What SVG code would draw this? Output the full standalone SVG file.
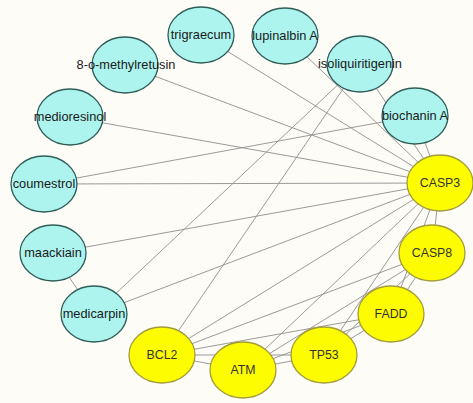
<svg xmlns="http://www.w3.org/2000/svg" width="473" height="403" viewBox="0 0 473 403">
<style>
.bg{fill:#fdfcf7}
.e line{stroke:#8e8e8e;stroke-width:0.9}
.c ellipse{fill:#aef4ee;stroke:#2f5e5a;stroke-width:1.3}
.t ellipse{fill:#fdfc00;stroke:#a39c3a;stroke-width:1.3}
text{font-family:"Liberation Sans",Arial,sans-serif;font-size:12px;text-anchor:middle}
.c text{fill:#1a1a1a;font-size:12.8px}
.t text{fill:#333333;font-size:12.3px}
</style>
<rect class="bg" x="0" y="0" width="473" height="403"/>
<g id="connectors" class="e">
<line x1="201" y1="35" x2="440" y2="183"/>
<line x1="125" y1="65" x2="440" y2="183"/>
<line x1="70" y1="117" x2="440" y2="183"/>
<line x1="44" y1="184" x2="440" y2="183"/>
<line x1="44" y1="184" x2="415" y2="116"/>
<line x1="285" y1="36" x2="440" y2="183"/>
<line x1="360" y1="64" x2="440" y2="183"/>
<line x1="360" y1="64" x2="94" y2="314"/>
<line x1="360" y1="64" x2="162" y2="355"/>
<line x1="415" y1="116" x2="440" y2="183"/>
<line x1="53" y1="253" x2="94" y2="314"/>
<line x1="53" y1="253" x2="440" y2="183"/>
<line x1="94" y1="314" x2="440" y2="183"/>
<line x1="440" y1="183" x2="432" y2="253"/>
<line x1="440" y1="183" x2="391" y2="314"/>
<line x1="440" y1="183" x2="324" y2="355"/>
<line x1="440" y1="183" x2="243" y2="370"/>
<line x1="440" y1="183" x2="162" y2="355"/>
<line x1="432" y1="253" x2="391" y2="314"/>
<line x1="432" y1="253" x2="324" y2="355"/>
<line x1="432" y1="253" x2="243" y2="370"/>
<line x1="432" y1="253" x2="162" y2="355"/>
<line x1="391" y1="314" x2="324" y2="355"/>
<line x1="391" y1="314" x2="243" y2="370"/>
<line x1="391" y1="314" x2="162" y2="355"/>
<line x1="324" y1="355" x2="243" y2="370"/>
<line x1="324" y1="355" x2="162" y2="355"/>
<line x1="243" y1="370" x2="162" y2="355"/>
</g>
<g id="trigraecum" class="c"><ellipse cx="201" cy="35" rx="33" ry="28"/><text x="201" y="39">trigraecum</text></g>
<g id="lupinalbin_A" class="c"><ellipse cx="285" cy="36" rx="33" ry="28"/><text x="285" y="40">lupinalbin A</text></g>
<g id="methylretusin" class="c"><ellipse cx="125" cy="65" rx="33" ry="28"/><text x="126" y="69">8-o-methylretusin</text></g>
<g id="isoliquiritigenin" class="c"><ellipse cx="360" cy="64" rx="33" ry="28"/><text x="360" y="68">isoliquiritigenin</text></g>
<g id="medioresinol" class="c"><ellipse cx="70" cy="117" rx="33" ry="28"/><text x="70" y="121">medioresinol</text></g>
<g id="biochanin_A" class="c"><ellipse cx="415" cy="116" rx="33" ry="28"/><text x="415" y="120">biochanin A</text></g>
<g id="coumestrol" class="c"><ellipse cx="44" cy="184" rx="33" ry="28"/><text x="44" y="188">coumestrol</text></g>
<g id="maackiain" class="c"><ellipse cx="53" cy="253" rx="33" ry="28"/><text x="53" y="257">maackiain</text></g>
<g id="medicarpin" class="c"><ellipse cx="94" cy="314" rx="33" ry="28"/><text x="94" y="318">medicarpin</text></g>
<g id="CASP3" class="t"><ellipse cx="440" cy="183" rx="33" ry="28"/><text x="440" y="187">CASP3</text></g>
<g id="CASP8" class="t"><ellipse cx="432" cy="253" rx="33" ry="28"/><text x="432" y="257">CASP8</text></g>
<g id="FADD" class="t"><ellipse cx="391" cy="314" rx="33" ry="28"/><text x="391" y="318">FADD</text></g>
<g id="TP53" class="t"><ellipse cx="324" cy="355" rx="33" ry="28"/><text x="324" y="359">TP53</text></g>
<g id="ATM" class="t"><ellipse cx="243" cy="370" rx="33" ry="28"/><text x="243" y="374">ATM</text></g>
<g id="BCL2" class="t"><ellipse cx="162" cy="355" rx="33" ry="28"/><text x="162" y="359">BCL2</text></g>
</svg>
